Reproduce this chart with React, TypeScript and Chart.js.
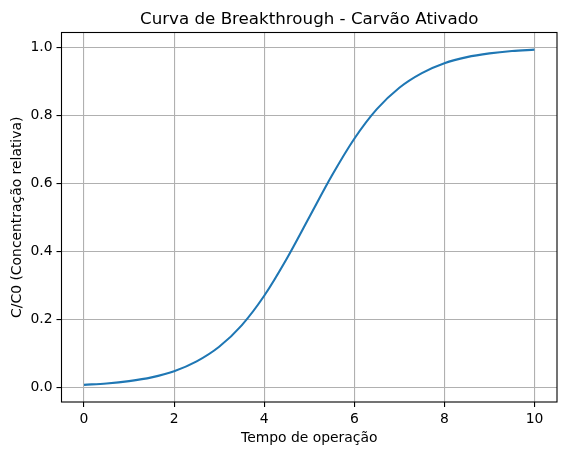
import React, { useRef, useEffect } from 'react';
import { Chart, registerables } from 'chart.js';

Chart.register(...registerables);

// tempo (x) and C/C0
const tempo = [0, 0.5, 1, 1.5, 2, 2.5, 3, 3.5, 4, 4.5, 5, 5.5, 6, 6.5, 7, 7.5, 8, 8.5, 9, 9.5, 10];
const concentracao = [
  0.007, 0.011, 0.018, 0.029, 0.047, 0.076, 0.119, 0.182, 0.269, 0.378, 0.5,
  0.622, 0.731, 0.818, 0.881, 0.924, 0.953, 0.971, 0.982, 0.989, 0.993,
];
const xTicks = [0, 2, 4, 6, 8, 10];
const yTicks = [0, 0.2, 0.4, 0.6, 0.8, 1.0];
const titulo = 'Curva de Breakthrough - Carvão Ativado';

const FONT = 'DejaVu Sans';

// box around the plot area + title centred over the axes (like matplotlib)
const frame = {
  id: 'frame',
  afterDraw(chart: Chart) {
    const { ctx, chartArea } = chart;
    ctx.save();
    ctx.strokeStyle = '#000';
    ctx.lineWidth = 1.1;
    ctx.strokeRect(chartArea.left, chartArea.top, chartArea.right - chartArea.left, chartArea.bottom - chartArea.top);
    ctx.fillStyle = '#000';
    ctx.font = `16.7px "${FONT}"`;
    ctx.textAlign = 'center';
    ctx.textBaseline = 'alphabetic';
    ctx.fillText(titulo, (chartArea.left + chartArea.right) / 2, 24);
    ctx.restore();
  },
};

const App: React.FC = () => {
  const canvasRef = useRef<HTMLCanvasElement | null>(null);

  useEffect(() => {
    if (!canvasRef.current) return;
    Chart.defaults.color = '#000';

    const chart = new Chart(canvasRef.current, {
      type: 'line',
      data: {
        datasets: [
          {
            data: tempo.map((t, i) => ({ x: t, y: concentracao[i] })),
            borderColor: '#1f77b4',
            borderWidth: 2.1,
            pointRadius: 0,
            cubicInterpolationMode: 'monotone',
            fill: false,
          },
        ],
      },
      options: {
        animation: false,
        responsive: false,
        layout: { padding: { left: 0, right: 10, top: 32.5, bottom: 0 } },
        plugins: {
          legend: { display: false },
          tooltip: { enabled: false },
          title: { display: false },
        },
        scales: {
          x: {
            type: 'linear',
            min: -0.5,
            max: 10.5,
            afterBuildTicks: (s: any) => {
              s.ticks = xTicks.map((v) => ({ value: v }));
            },
            afterFit: (s: any) => {
              s.height = 53;
            },
            ticks: {
              font: { family: FONT, size: 13.9 },
              color: '#000',
              padding: 4,
              maxRotation: 0,
              callback: (v: any) => String(v),
            },
            grid: { color: '#b0b0b0', lineWidth: 1.1, tickLength: 5, tickColor: '#000', drawTicks: true },
            border: { display: false },
            title: {
              display: true,
              text: 'Tempo de operação',
              font: { family: FONT, size: 13.9 },
              color: '#000',
              padding: { top: 0, bottom: 8.7 },
            },
          },
          y: {
            type: 'linear',
            min: -0.0435,
            max: 1.0435,
            afterBuildTicks: (s: any) => {
              s.ticks = yTicks.map((v) => ({ value: v }));
            },
            afterFit: (s: any) => {
              s.width = 61.5;
            },
            ticks: {
              font: { family: FONT, size: 13.9 },
              color: '#000',
              padding: 4,
              callback: (v: any) => Number(v).toFixed(1),
            },
            grid: { color: '#b0b0b0', lineWidth: 1.1, tickLength: 5, tickColor: '#000', drawTicks: true },
            border: { display: false },
            title: {
              display: true,
              text: 'C/C0 (Concentração relativa)',
              font: { family: FONT, size: 13.9 },
              color: '#000',
              padding: { top: 8.7, bottom: 0 },
            },
          },
        },
      },
      plugins: [frame],
    });

    return () => {
      chart.destroy();
    };
  }, []);

  return (
    <div style={{ position: 'absolute', left: 0, top: 0, width: 567, height: 455, background: '#fff' }}>
      <canvas ref={canvasRef} width={567} height={455} style={{ width: 567, height: 455 }} />
    </div>
  );
};

export default App;
